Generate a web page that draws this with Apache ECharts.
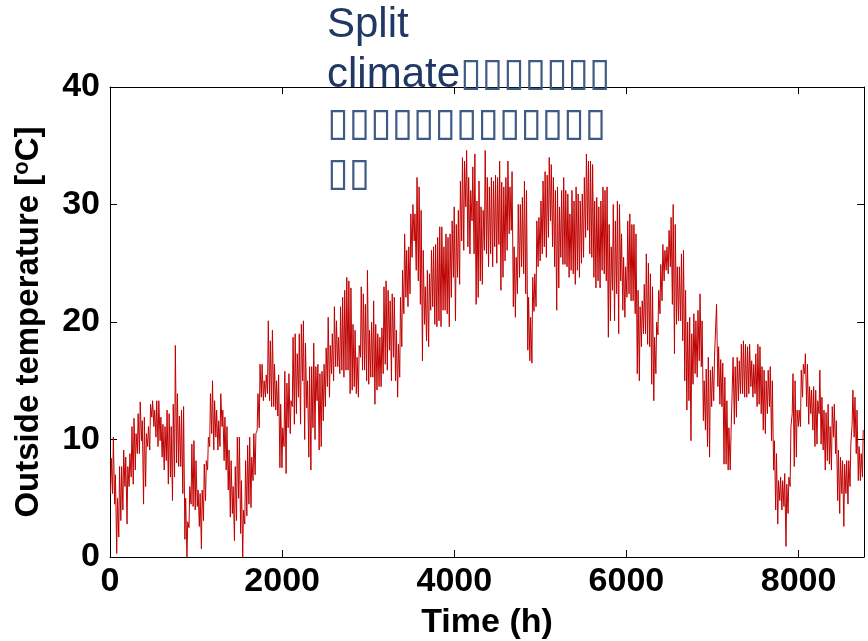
<!DOCTYPE html>
<html>
<head>
	<meta http-equiv="Content-Type" content="text/html; charset=utf-8"/>
	<title>Outside temperature</title>
	<style>
		html, body {
			margin: 0;
			padding: 0;
			background: #ffffff;
		}
		#chart {
			width: 868px;
			height: 641px;
		}
	</style>
</head>
<body>
	<div id="chart"></div>

	<script type="text/javascript" src="https://cdn.jsdelivr.net/npm/echarts/dist/echarts.min.js"></script>
	<script>
		// daily minimum / maximum outside temperature (°C), day 0..364
		const dailyLow = [
			5.4, 5.4, 4.5, 0.3, 1.7, 3.1, 4.0, 6.0, 2.8, 6.0,
			6.8, 6.2, 7.4, 8.8, 8.8, 9.9, 4.5, 6.0, 9.4, 9.1,
			11.9, 11.1, 10.2, 9.4, 9.9, 8.5, 7.4, 8.2, 6.2, 6.8,
			4.8, 6.8, 8.0, 7.7, 7.7, 5.4, 1.5, 0.0, 2.5, 4.5,
			4.3, 4.0, 4.3, 2.6, 0.7, 3.1, 4.8, 7.4, 9.4, 10.5,
			9.1, 10.2, 9.1, 9.4, 11.1, 8.2, 7.4, 5.7, 3.4, 3.7,
			1.4, 3.1, 5.0, 2.0, 0.0, 2.8, 3.5, 4.5, 4.2, 6.5,
			7.0, 10.8, 11.0, 13.6, 13.3, 13.6, 13.9, 13.3, 12.8, 12.8,
			12.5, 12.0, 7.6, 7.6, 9.4, 7.1, 11.0, 10.5, 12.8, 11.3,
			12.2, 13.6, 11.3, 15.0, 10.0, 12.7, 8.5, 7.4, 11.0, 10.0,
			13.3, 9.1, 9.4, 11.6, 12.8, 14.5, 13.6, 15.6, 15.0, 16.2,
			16.2, 15.6, 15.9, 15.3, 15.9, 15.9, 13.9, 14.2, 14.5, 13.9,
			13.6, 17.0, 15.9, 15.9, 15.0, 14.7, 15.3, 15.3, 13.0, 14.2,
			14.5, 14.5, 15.6, 16.4, 15.9, 17.6, 15.0, 17.0, 15.0, 13.6,
			15.3, 17.9, 20.7, 22.1, 21.3, 22.4, 25.5, 26.9, 24.4, 23.5,
			21.5, 16.7, 19.8, 18.4, 17.9, 21.0, 21.3, 19.8, 19.6, 20.1,
			19.6, 21.0, 21.0, 20.7, 19.6, 22.1, 23.8, 20.1, 23.8, 23.2,
			26.9, 26.1, 29.8, 26.4, 25.8, 28.6, 25.8, 21.5, 22.1, 23.5,
			23.2, 26.1, 25.8, 24.7, 25.8, 24.7, 26.4, 25.0, 26.6, 22.7,
			23.8, 25.2, 26.1, 27.5, 27.8, 21.3, 20.4, 22.4, 23.8, 24.7,
			24.1, 22.4, 17.6, 16.7, 16.5, 20.9, 21.3, 24.7, 25.2, 25.8,
			26.4, 25.5, 27.2, 28.6, 26.4, 24.7, 21.0, 22.9, 25.5, 24.9,
			24.9, 24.7, 23.8, 24.4, 24.1, 23.2, 24.4, 23.8, 25.0, 25.5,
			27.2, 27.8, 25.8, 25.5, 23.8, 22.9, 23.5, 22.9, 24.4, 24.1,
			23.5, 18.7, 20.1, 22.7, 20.1, 22.4, 19.0, 23.5, 21.0, 20.4,
			22.1, 22.4, 21.8, 21.8, 20.7, 15.6, 15.0, 17.9, 19.0, 19.0,
			18.1, 17.9, 14.7, 13.3, 15.6, 18.9, 20.7, 21.8, 23.5, 24.4,
			24.1, 24.7, 21.5, 17.3, 19.8, 20.1, 20.1, 18.4, 15.0, 12.5,
			13.3, 9.9, 14.7, 15.6, 15.3, 16.7, 16.2, 11.6, 10.8, 9.4,
			8.5, 12.8, 13.3, 17.0, 14.5, 13.0, 12.8, 7.9, 7.9, 7.4,
			7.4, 10.5, 11.3, 11.9, 13.3, 13.9, 13.9, 13.6, 13.6, 13.9,
			14.5, 13.6, 13.9, 12.8, 13.0, 12.2, 10.8, 10.5, 12.2, 12.8,
			9.9, 7.4, 4.0, 2.8, 4.8, 4.0, 4.3, 0.9, 3.7, 6.0,
			12.2, 7.7, 8.5, 11.1, 11.1, 13.6, 15.6, 12.8, 11.3, 12.2,
			10.8, 9.4, 9.6, 12.2, 9.6, 9.1, 7.4, 8.2, 7.9, 7.4,
			10.2, 8.8, 4.8, 3.7, 5.4, 2.6, 5.4, 4.5, 6.0, 11.3,
			10.2, 8.8, 6.5, 6.5, 6.8
		];
		const dailyHigh = [
			8.4, 10.2, 7.0, 5.0, 7.7, 7.7, 9.1, 8.5, 7.7, 8.8,
			11.1, 11.8, 10.5, 12.2, 13.2, 11.6, 11.9, 10.5, 11.1, 13.0,
			13.3, 12.5, 13.3, 13.3, 11.9, 11.3, 11.1, 12.5, 12.2, 11.1,
			13.0, 18.0, 13.9, 12.0, 12.5, 12.8, 5.0, 3.0, 6.0, 9.6,
			9.9, 8.2, 5.7, 5.4, 5.7, 7.9, 8.2, 10.2, 13.9, 15.0,
			13.3, 12.5, 11.6, 13.9, 12.5, 11.9, 11.1, 9.1, 8.2, 6.0,
			7.7, 10.2, 10.2, 6.5, 4.0, 8.2, 9.5, 10.2, 8.5, 10.5,
			10.5, 13.9, 16.4, 16.4, 15.0, 15.5, 20.1, 18.4, 19.3, 16.4,
			15.0, 15.5, 13.0, 11.0, 15.8, 14.8, 15.6, 13.3, 18.7, 19.0,
			17.3, 19.0, 19.8, 20.1, 18.2, 15.0, 16.2, 16.2, 18.2, 16.2,
			16.4, 15.6, 15.8, 16.4, 17.8, 20.4, 18.0, 19.0, 21.3, 20.1,
			18.7, 21.3, 22.1, 22.7, 23.8, 23.5, 22.9, 19.8, 19.3, 17.0,
			18.0, 23.0, 22.4, 21.5, 24.4, 19.3, 20.0, 21.8, 19.8, 19.0,
			18.7, 19.5, 23.0, 23.5, 22.7, 21.8, 22.4, 22.1, 19.3, 18.1,
			22.1, 24.4, 27.5, 26.1, 26.4, 29.2, 30.0, 29.2, 32.3, 31.5,
			29.5, 26.1, 23.0, 24.4, 24.1, 26.1, 26.4, 26.6, 27.2, 28.1,
			28.1, 26.4, 27.5, 27.2, 27.5, 28.6, 29.8, 28.3, 29.5, 32.0,
			34.0, 33.7, 34.6, 32.3, 31.2, 33.2, 34.3, 30.3, 32.0, 29.8,
			29.5, 34.6, 32.3, 31.5, 32.3, 32.0, 32.5, 32.3, 33.7, 31.9,
			31.5, 32.3, 33.7, 31.5, 32.8, 26.4, 25.5, 30.0, 30.0, 30.6,
			32.0, 31.2, 22.1, 20.4, 23.8, 24.1, 28.6, 28.9, 30.3, 32.0,
			32.8, 32.5, 34.0, 33.4, 32.3, 31.2, 31.5, 29.8, 31.2, 32.3,
			31.2, 30.9, 29.2, 31.2, 30.3, 31.5, 30.9, 30.3, 30.9, 32.3,
			34.3, 33.7, 33.7, 33.4, 30.3, 30.6, 29.8, 30.3, 31.5, 31.2,
			31.5, 28.3, 26.4, 30.0, 28.6, 30.3, 30.0, 27.5, 25.5, 24.7,
			28.6, 29.2, 28.3, 28.3, 27.5, 22.7, 21.3, 21.8, 23.2, 25.8,
			25.0, 24.1, 23.0, 18.7, 20.0, 22.7, 24.9, 26.6, 26.1, 26.4,
			27.8, 28.9, 30.0, 28.3, 24.7, 24.7, 25.8, 26.1, 22.7, 20.0,
			20.4, 19.0, 20.7, 20.1, 21.0, 22.4, 20.1, 15.0, 16.0, 17.0,
			15.9, 16.2, 17.0, 21.5, 17.9, 16.8, 16.5, 15.3, 13.3, 11.0,
			10.5, 17.0, 16.2, 17.0, 16.7, 18.1, 18.4, 18.1, 17.9, 18.1,
			16.7, 16.4, 17.3, 18.1, 17.9, 16.2, 15.9, 15.0, 15.9, 16.2,
			15.0, 9.9, 8.8, 6.5, 6.8, 6.5, 7.1, 6.2, 6.8, 11.1,
			15.6, 15.0, 12.5, 12.5, 15.9, 16.4, 17.3, 16.4, 14.5, 14.2,
			14.5, 14.2, 13.3, 15.9, 13.6, 12.5, 12.3, 13.0, 11.1, 12.8,
			13.0, 11.6, 9.1, 8.5, 8.2, 7.9, 8.2, 8.2, 9.6, 14.2,
			13.6, 12.5, 9.4, 8.8, 10.8
		];
		// hour of the day where the low / high sits
		const hourOfLow = 6;
		const hourOfHigh = 15;

		const xTicks = [0, 2000, 4000, 6000, 8000];
		const yTicks = [0, 10, 20, 30, 40];

		const titleLines = ['Split', 'climate', '▯▯▯▯▯▯▯', '▯▯▯▯▯▯▯▯▯▯▯▯▯', '▯▯'];

		let points = [];
		for (let d = 0; d < dailyLow.length; d++) {
			points.push([d * 24 + hourOfLow, dailyLow[d]]);
			points.push([d * 24 + hourOfHigh, dailyHigh[d]]);
		}

		const fontFamily = '"Liberation Sans", Arial, Helvetica, sans-serif';
		const tickFont = {
			fontFamily: fontFamily,
			fontSize: 34,
			fontWeight: 'bold',
			color: '#000000'
		};

		let chart = echarts.init(document.getElementById('chart'), null, {renderer: 'canvas'});
		chart.setOption({
			animation: false,
			backgroundColor: '#ffffff',
			title: {
				left: 327,
				top: 0,
				padding: 0,
				text: '{a|' + titleLines[0] + '}\n{a|' + titleLines[1] + '}{b|' + titleLines[2] + '}\n{b|' + titleLines[3] + '}\n{b|' + titleLines[4] + '}',
				textStyle: {
					fontWeight: 'normal',
					rich: {
						a: {
							fontFamily: fontFamily,
							fontSize: 42,
							fontWeight: 'normal',
							color: '#1f3864',
							lineHeight: 50
						},
						b: {
							fontFamily: '"DejaVu Sans"',
							fontSize: 39,
							fontWeight: 'normal',
							color: '#3f5a85',
							lineHeight: 50
						}
					}
				},
				z: 10
			},
			grid: {
				left: 110,
				right: 4,
				top: 87,
				bottom: 84,
				containLabel: false,
				outerBoundsMode: 'none'
			},
			xAxis: [{
				type: 'value',
				min: xTicks[0],
				max: 8760,
				interval: xTicks[1] - xTicks[0],
				position: 'bottom',
				name: 'Time (h)',
				nameLocation: 'middle',
				nameGap: 49,
				nameMoveOverlap: false,
				nameTextStyle: tickFont,
				axisLine: {show: true, onZero: false, lineStyle: {color: '#000000', width: 1}},
				axisTick: {show: true, inside: true, length: 7, lineStyle: {color: '#000000'}},
				axisLabel: Object.assign({
					margin: 8,
					showMaxLabel: false,
					formatter: function (v) { return String(v); }
				}, tickFont),
				splitLine: {show: false}
			}, {
				type: 'value',
				min: xTicks[0],
				max: 8760,
				interval: xTicks[1] - xTicks[0],
				position: 'top',
				axisLine: {show: true, onZero: false, lineStyle: {color: '#000000', width: 1}},
				axisTick: {show: true, inside: true, length: 7, lineStyle: {color: '#000000'}},
				axisLabel: {show: false},
				splitLine: {show: false}
			}],
			yAxis: [{
				type: 'value',
				min: yTicks[0],
				max: yTicks[yTicks.length - 1],
				interval: yTicks[1] - yTicks[0],
				position: 'left',
				name: 'Outside temperature [{sup|o}C]',
				nameLocation: 'middle',
				nameGap: 63,
				nameMoveOverlap: false,
				nameTextStyle: {
					fontFamily: fontFamily,
					fontSize: 33,
					fontWeight: 'bold',
					color: '#000000',
					rich: {
						sup: {
							fontFamily: fontFamily,
							fontSize: 22,
							fontWeight: 'bold',
							color: '#000000',
							verticalAlign: 'top',
							padding: [0, 0, 14, 0]
						}
					}
				},
				axisLine: {show: true, onZero: false, lineStyle: {color: '#000000', width: 1}},
				axisTick: {show: true, inside: true, length: 7, lineStyle: {color: '#000000'}},
				axisLabel: Object.assign({margin: 10}, tickFont),
				splitLine: {show: false}
			}, {
				type: 'value',
				min: yTicks[0],
				max: yTicks[yTicks.length - 1],
				interval: yTicks[1] - yTicks[0],
				position: 'right',
				axisLine: {show: true, onZero: false, lineStyle: {color: '#000000', width: 1}},
				axisTick: {show: true, inside: true, length: 7, lineStyle: {color: '#000000'}},
				axisLabel: {show: false},
				splitLine: {show: false}
			}],
			series: [{
				type: 'line',
				xAxisIndex: 0,
				yAxisIndex: 0,
				data: points,
				showSymbol: false,
				symbol: 'none',
				lineStyle: {color: '#c00000', width: 1},
				itemStyle: {color: '#c00000'},
				clip: true
			}]
		});
	</script>
</body>
</html>
